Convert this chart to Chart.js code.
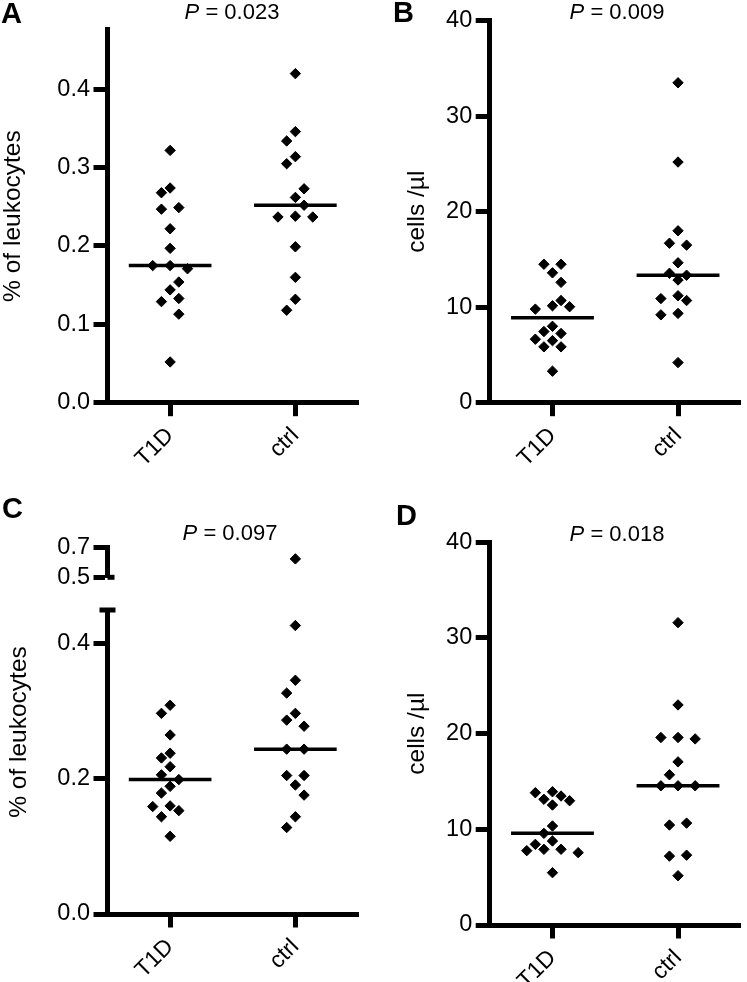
<!DOCTYPE html>
<html>
<head>
<meta charset="utf-8">
<script src="https://cdn.jsdelivr.net/npm/chart.js@4.4.1/dist/chart.umd.min.js"></script>
<style>
  body { margin: 0; background: #fff; }
  #wrap { position: relative; width: 747px; height: 982px; overflow: hidden; font-family: 'Liberation Sans', Arial, sans-serif; color: #000; }
  canvas { position: absolute; }
  .letter { position: absolute; font-weight: bold; font-size: 29px; line-height: 29px; }
  .pval { position: absolute; width: 200px; text-align: center; font-size: 22px; line-height: 22px; white-space: nowrap; }
  .ytitle { position: absolute; width: 300px; text-align: center; font-size: 24.5px; line-height: 26px; transform: rotate(-90deg); white-space: nowrap; }
</style>
</head>
<body>
<div id="wrap">
  <canvas id="chart-a" width="373" height="490" style="left:0;top:0"></canvas>
  <canvas id="chart-b" width="374" height="490" style="left:373px;top:0"></canvas>
  <canvas id="chart-c" width="373" height="492" style="left:0;top:490px"></canvas>
  <canvas id="chart-c-top" width="373" height="70" style="left:0;top:530px"></canvas>
  <canvas id="chart-d" width="374" height="492" style="left:373px;top:490px"></canvas>

  <div class="letter" style="left:1px;top:-1px">A</div>
  <div class="letter" style="left:393px;top:-2px">B</div>
  <div class="letter" style="left:2px;top:494px">C</div>
  <div class="letter" style="left:396px;top:501px">D</div>

  <div class="pval" id="p-a" style="left:132px;top:1px"></div>
  <div class="pval" id="p-b" style="left:517px;top:1px"></div>
  <div class="pval" id="p-c" style="left:130px;top:522px"></div>
  <div class="pval" id="p-d" style="left:517px;top:523px"></div>

  <div class="ytitle" id="ytitle-c" style="left:-132px;top:719px"></div>
</div>

<script>
var groups = ['T1D', 'ctrl'];
var pValues = ['0.023', '0.009', '0.097', '0.018'];
var pctLabel = '% of leukocytes';
var cellsLabel = 'cells /\u00b5l';

// A: % of leukocytes
var pctA_T1D = [0.322, 0.268, 0.274, 0.247, 0.249, 0.222, 0.197, 0.175, 0.171, 0.175, 0.144, 0.154, 0.129, 0.133, 0.113, 0.052];
var pctA_ctrl = [0.420, 0.334, 0.346, 0.314, 0.305, 0.262, 0.273, 0.252, 0.237, 0.237, 0.238, 0.199, 0.160, 0.118, 0.132];

// B: cells / ul
var cellsB_T1D = [14.5, 14.5, 13.6, 12.6, 10.7, 10.05, 9.8, 10.15, 7.45, 8.0, 7.25, 6.65, 5.85, 5.85, 6.5, 3.3];
var cellsB_ctrl = [33.5, 25.2, 18.0, 16.5, 16.7, 13.55, 14.65, 13.35, 12.85, 10.9, 11.2, 10.7, 9.35, 9.2, 4.2];

// C: % of leukocytes (broken axis)
var pctC_T1D = [0.297, 0.309, 0.265, 0.231, 0.238, 0.218, 0.206, 0.199, 0.189, 0.179, 0.160, 0.153, 0.144, 0.159, 0.115];
var pctC_ctrl = [0.624, 0.427, 0.346, 0.327, 0.297, 0.287, 0.278, 0.244, 0.244, 0.191, 0.205, 0.205, 0.176, 0.128, 0.144];

// D: cells / ul
var cellsD_T1D = [13.48, 13.93, 12.99, 13.83, 12.54, 13.14, 9.58, 10.35, 8.78, 8.43, 7.91, 7.77, 7.56, 7.91, 5.47];
var cellsD_ctrl = [31.6, 23.0, 19.6, 19.45, 19.6, 17.05, 15.7, 14.55, 14.55, 14.55, 10.45, 10.65, 7.3, 7.2, 5.15];

var pctTicks = [0, 0.1, 0.2, 0.3, 0.4];
var pctTicksC = [0, 0.2, 0.4];
var pctTicksCTop = [0.5, 0.7];
var cellTicks = [0, 10, 20, 30, 40];

Chart.defaults.font.family = "'Liberation Sans', Arial, sans-serif";
Chart.defaults.color = '#000';

function median(arr) {
	var s = arr.slice().sort(function(a, b) { return a - b; });
	var m = Math.floor(s.length / 2);
	return s.length % 2 ? s[m] : (s[m - 1] + s[m]) / 2;
}

// column scatter offsets in px, diamonds pushed sideways when they touch
function swarm(vals, pxPerUnit) {
	var step = 8.7, minDist = 13;
	var order = vals.map(function(v, i) { return i; });
	order.sort(function(a, b) { return vals[b] - vals[a] || a - b; });
	var placed = [];
	order.forEach(function(i) {
		var y = vals[i] * pxPerUnit, x = 0;
		for (var k = 0; k < 40; k++) {
			x = Math.ceil(k / 2) * step * (k % 2 ? -1 : 1);
			var free = placed.every(function(p) { return Math.abs(p.x - x) + Math.abs(p.y - y) >= minDist; });
			if (free) break;
		}
		placed.push({i: i, x: x, y: y});
	});
	// re-centre each cluster of touching points
	var offs = [], start = 0;
	for (var j = 1; j <= placed.length; j++) {
		if (j === placed.length || placed[j - 1].y - placed[j].y >= minDist) {
			var part = placed.slice(start, j);
			var xs = part.map(function(p) { return p.x; });
			var shift = -Math.round((Math.min.apply(null, xs) + Math.max.apply(null, xs)) / 2 / step) * step;
			part.forEach(function(p) { offs[p.i] = p.x + shift; });
			start = j;
		}
	}
	return offs;
}

function columnSets(cols, offs, pxX, yMin, yMax, withMedian) {
	var sets = [];
	cols.forEach(function(vals, gi) {
		var c = gi + 0.5;
		var pts = [];
		vals.forEach(function(v, i) {
			if (v >= yMin && v <= yMax) pts.push({x: c + offs[gi][i] / pxX, y: v});
		});
		sets.push({
			type: 'scatter', data: pts,
			pointStyle: 'rectRot', pointRadius: 5.2, pointHoverRadius: 5.2,
			backgroundColor: '#000', borderColor: '#000', borderWidth: 1, clip: false
		});
		if (withMedian) {
			var m = median(vals);
			sets.push({
				type: 'line', data: [{x: c - 0.33, y: m}, {x: c + 0.33, y: m}],
				borderColor: '#000', borderWidth: 3.5, pointRadius: 0, clip: false
			});
		}
	});
	return sets;
}

// little caps where panel C's axis is broken
var breakMarks = {
	id: 'breakMarks',
	afterDraw: function(chart, args, o) {
		if (o.value === undefined) return;
		var ctx = chart.ctx, x0 = chart.chartArea.left;
		var py = chart.scales.y.getPixelForValue(o.value);
		ctx.save();
		ctx.strokeStyle = '#000';
		ctx.lineWidth = 5;
		ctx.beginPath();
		ctx.moveTo(x0 - o.left, py);
		ctx.lineTo(x0 + o.right, py);
		ctx.stroke();
		ctx.restore();
	}
};

// g.area = [left, top, right, bottom] of the plot inside the canvas
function panel(id, g, cols, y) {
	var area = g.area;
	var pxX = (area[2] - area[0]) / 2;
	var pxY = (area[3] - area[1]) / (y.max - y.min);
	var offs = y.offs || cols.map(function(v) { return swarm(v, pxY); });
	var showX = y.showX !== false;

	var config = {
		type: 'scatter',
		data: { datasets: columnSets(cols, offs, pxX, y.min, y.max, showX) },
		options: {
			responsive: false,
			animation: false,
			events: [],
			layout: { padding: { left: 0, top: area[1], right: g.w - area[2], bottom: 0 } },
			plugins: {
				legend: { display: false },
				tooltip: { enabled: false },
				breakMarks: y.breakMark || {}
			},
			scales: {
				x: {
					type: 'linear', min: 0, max: 2, display: showX,
					afterBuildTicks: function(s) { s.ticks = [{value: 0.5}, {value: 1.5}]; },
					afterFit: function(s) { s.height = g.h - area[3]; },
					ticks: {
						callback: function(v, i) { return groups[i]; },
						minRotation: 45, maxRotation: 45, autoSkip: false, padding: 6,
						font: { size: 23 }, color: '#000'
					},
					grid: { drawOnChartArea: false, tickLength: 13.5, tickWidth: 5, tickColor: '#000' },
					border: { display: true, width: 5, color: '#000' }
				},
				y: {
					type: 'linear', min: y.min, max: y.max,
					afterBuildTicks: function(s) { s.ticks = y.ticks.map(function(v) { return {value: v}; }); },
					afterFit: function(s) { s.width = area[0]; },
					ticks: {
						callback: function(v) { return v.toFixed(y.dec); },
						autoSkip: false, padding: 3.5, font: { size: 23.5 }, color: '#000'
					},
					grid: { drawOnChartArea: false, tickLength: 14, tickWidth: 5, tickColor: '#000' },
					border: { display: true, width: 5, color: '#000' },
					title: {
						display: !!y.label, text: y.label, color: '#000',
						font: { size: 24.5, lineHeight: 1 },
						padding: { top: y.titlePad || 0, bottom: 0 }
					}
				}
			}
		},
		plugins: y.breakMark ? [breakMarks] : []
	};
	return new Chart(document.getElementById(id).getContext('2d'), config);
}

/* Panel A */
panel('chart-a', {w: 373, h: 490, area: [107.5, 29.5, 358, 402.7]},
	[pctA_T1D, pctA_ctrl],
	{min: 0, max: 0.4763, ticks: pctTicks, dec: 1, label: pctLabel, titlePad: 1});

/* Panel B */
panel('chart-b', {w: 374, h: 490, area: [116.7, 20.7, 371.7, 402.7]},
	[cellsB_T1D, cellsB_ctrl],
	{min: 0, max: 40, ticks: cellTicks, dec: 0, label: cellsLabel, titlePad: 32});

/* Panel C: lower part 0-0.45, upper part 0.5-0.7 */
var gC = {w: 373, h: 492, area: [107.5, 120, 358, 424]};
var pxC = (gC.area[3] - gC.area[1]) / 0.45;
var offsC = [pctC_T1D, pctC_ctrl].map(function(v) { return swarm(v, pxC); });
panel('chart-c', gC, [pctC_T1D, pctC_ctrl],
	{min: 0, max: 0.45, ticks: pctTicksC, dec: 1, offs: offsC,
	 breakMark: {value: 0.45, left: 8, right: 8}});
panel('chart-c-top', {w: 373, h: 70, area: [107.5, 13.3, 358, 47.3]}, [pctC_T1D, pctC_ctrl],
	{min: 0.5, max: 0.7, ticks: pctTicksCTop, dec: 1, offs: offsC, showX: false,
	 breakMark: {value: 0.5, left: 0, right: 7}});

/* Panel D */
panel('chart-d', {w: 374, h: 492, area: [116.7, 52.3, 371.7, 435]},
	[cellsD_T1D, cellsD_ctrl],
	{min: 0, max: 40, ticks: cellTicks, dec: 0, label: cellsLabel, titlePad: 32});

// texts
['p-a', 'p-b', 'p-c', 'p-d'].forEach(function(id, i) {
	document.getElementById(id).innerHTML = '<i>P</i> = ' + pValues[i];
});
document.getElementById('ytitle-c').textContent = pctLabel;
</script>
</body>
</html>
